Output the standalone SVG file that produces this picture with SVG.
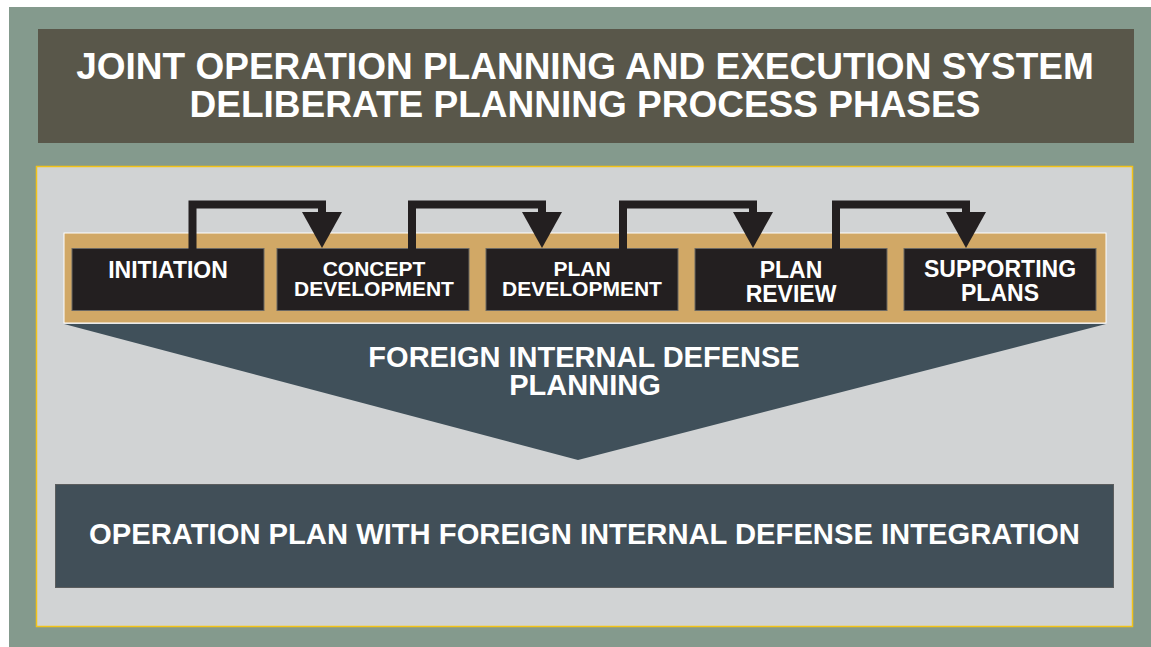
<svg xmlns="http://www.w3.org/2000/svg" width="1151" height="647" viewBox="0 0 1151 647">
<style>
text{font-family:"Liberation Sans",Arial,sans-serif;font-weight:bold;fill:#ffffff;text-anchor:middle}
.phase{fill:#231f20;stroke:#6b6863;stroke-width:1}
.t37{font-size:37px}
.t23{font-size:23px}
.t21{font-size:21px}
.t29{font-size:29px}
.t29b{font-size:29.2px}
.conn{fill:none;stroke:#231f20;stroke-width:8;stroke-linejoin:miter}
</style>
<defs>
<marker id="head" markerUnits="userSpaceOnUse" viewBox="0 0 36 40" refX="0" refY="20" markerWidth="36" markerHeight="40" orient="auto">
<path d="M0,0 L36,20 L0,40 Z" fill="#231f20"/>
</marker>
</defs>
<rect x="9" y="7" width="1142" height="640" fill="#849a8d"/>
<g id="title">
<rect x="38" y="29" width="1096" height="114" fill="#59574a"/>
<text class="t37" x="585" y="79">JOINT OPERATION PLANNING AND EXECUTION SYSTEM</text>
<text class="t37" x="585" y="117">DELIBERATE PLANNING PROCESS PHASES</text>
</g>
<rect x="36.5" y="166.5" width="1096" height="460" fill="#d1d3d4" stroke="#f2c318" stroke-width="1.5"/>
<g id="strip">
<rect x="64" y="233" width="1042" height="90" fill="#d1a866" stroke="#ffffff" stroke-width="1"/>
</g>
<g id="funnel">
<polygon points="64,324 1106,324 578,460" fill="#40505a"/>
<text class="t29" x="584" y="366.5">FOREIGN INTERNAL DEFENSE</text>
<text class="t29" x="585" y="395">PLANNING</text>
</g>
<g id="initiation">
<rect class="phase" x="72" y="248.5" width="192" height="62"/>
<text class="t23" x="168" y="277.5">INITIATION</text>
</g>
<g id="concept">
<rect class="phase" x="277" y="248.5" width="192" height="62"/>
<text class="t21" x="374" y="275.5">CONCEPT</text>
<text class="t21" x="374" y="296">DEVELOPMENT</text>
</g>
<g id="plandev">
<rect class="phase" x="486" y="248.5" width="192" height="62"/>
<text class="t21" x="582" y="275.5">PLAN</text>
<text class="t21" x="582" y="296">DEVELOPMENT</text>
</g>
<g id="review">
<rect class="phase" x="695" y="248.5" width="192" height="62"/>
<text class="t23" x="791" y="277.5">PLAN</text>
<text class="t23" x="791" y="301.5">REVIEW</text>
</g>
<g id="supporting">
<rect class="phase" x="904" y="248.5" width="192" height="62"/>
<text class="t23" x="1000" y="277">SUPPORTING</text>
<text class="t23" x="1000" y="300.5">PLANS</text>
</g>
<g id="connectors">
<path class="conn" marker-end="url(#head)" d="M192.5,249 V204.5 H322 V212"/>
<path class="conn" marker-end="url(#head)" d="M412,249 V204.5 H542 V212"/>
<path class="conn" marker-end="url(#head)" d="M623,249 V204.5 H753 V212"/>
<path class="conn" marker-end="url(#head)" d="M836,249 V204.5 H966 V212"/>
</g>
<g id="result">
<rect x="55.5" y="484.5" width="1058" height="103" fill="#414f58" stroke="#5b5d5e" stroke-width="1"/>
<text class="t29b" x="584.5" y="544">OPERATION PLAN WITH FOREIGN INTERNAL DEFENSE INTEGRATION</text>
</g>
</svg>
